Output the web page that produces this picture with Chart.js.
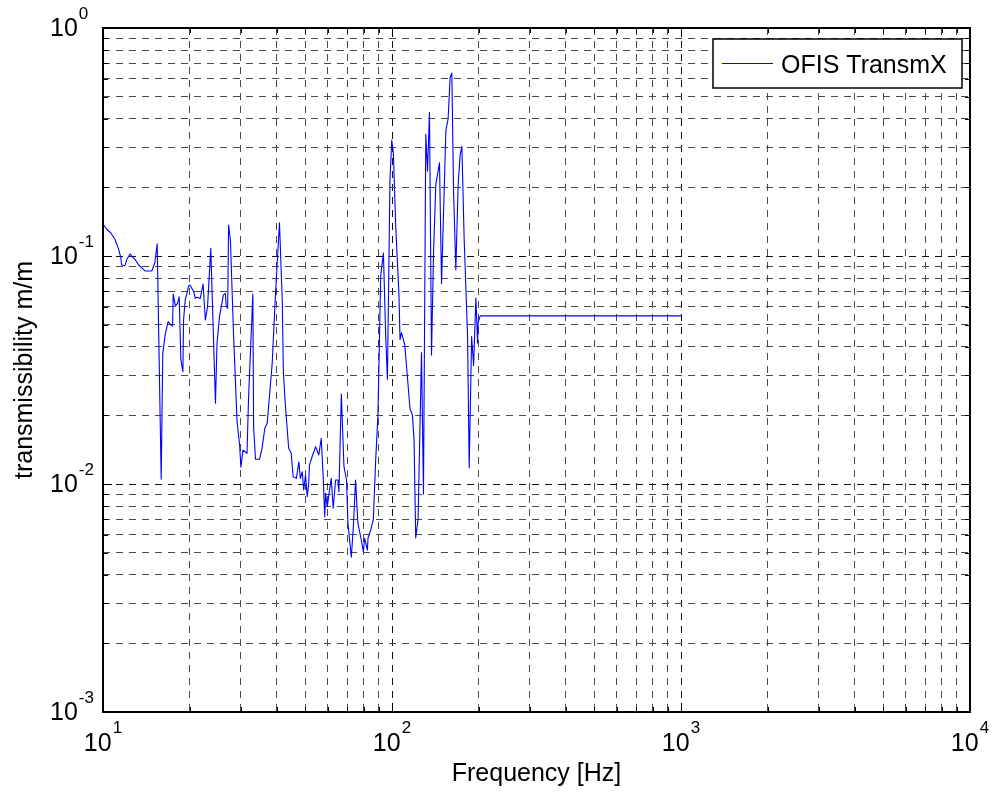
<!DOCTYPE html>
<html>
<head>
<meta charset="utf-8">
<title>OFIS TransmX</title>
<script src="https://cdn.jsdelivr.net/npm/chart.js@4/dist/chart.umd.min.js"></script>
<style>
  html, body { margin: 0; padding: 0; background: #ffffff; }
  #wrap { width: 994px; height: 795px; }
</style>
</head>
<body>
<div id="wrap"><canvas id="c" width="994" height="795"></canvas></div>
<script>
// Measured transmissibility (m/m) versus frequency (Hz)
const freqHz = [
  10.0, 10.3, 10.63, 11.0, 11.3, 11.52, 11.6, 11.9, 12.1, 12.4,
  12.9, 13.3, 14.0, 14.75, 15.1, 15.4, 15.9, 16.1, 16.4, 16.8,
  17.2, 17.4, 17.5, 17.8, 18.1, 18.35, 18.6, 18.9, 19.0, 19.25,
  19.8, 20.0, 20.6, 20.85, 21.1, 21.7, 22.2, 22.6, 23.0, 23.6,
  24.5, 24.8, 25.3, 26.1, 26.5, 26.7, 27.0, 27.2, 27.6, 28.3,
  29.1, 29.7, 30.0, 30.5, 31.5, 31.9, 33.0, 33.2, 33.7, 34.8,
  35.5, 36.3, 37.0, 38.5, 39.5, 40.8, 41.7, 42.1, 42.8, 43.9,
  44.8, 45.5, 46.7, 47.6, 48.2, 48.9, 49.5, 50.2, 50.9, 51.5,
  51.8, 52.9, 54.4, 55.8, 56.9, 57.8, 58.5, 58.9, 59.7, 61.6,
  62.6, 63.8, 65.0, 65.5, 66.8, 68.2, 69.6, 70.4, 72.3, 73.5,
  74.8, 76.2, 78.3, 79.6, 80.4, 82.2, 82.6, 84.4, 86.2, 87.8,
  89.4, 91.4, 93.4, 95.1, 96.4, 98.4, 99.8, 101.1, 103.0, 105.7,
  106.6, 107.8, 110.7, 113.1, 115.4, 117.7, 119.2, 120.8, 123.1, 126.5,
  128.5, 130.9, 132.7, 134.8, 137.0, 139.2, 141.8, 146.0, 148.4, 153.6,
  156.4, 158.9, 161.1, 163.3, 166.3, 169.4, 172.1, 174.5, 177.7, 182.6,
  185.0, 188.6, 191.6, 195.1, 197.8, 198.7, 201.9, 1000
];
const transmX = [
  0.138, 0.131, 0.1265, 0.1184, 0.108, 0.0987, 0.0913, 0.0907, 0.0967, 0.102,
  0.0967, 0.0913, 0.0859, 0.0859, 0.0929, 0.113, 0.0105, 0.0374, 0.0450, 0.0515,
  0.0498, 0.0493, 0.0681, 0.0603, 0.0620, 0.0663, 0.0350, 0.0311, 0.0524, 0.0641,
  0.0739, 0.0746, 0.0697, 0.0652, 0.0659, 0.0652, 0.0754, 0.0524, 0.0599, 0.108,
  0.0226, 0.0414, 0.0542, 0.0675, 0.0686, 0.0599, 0.0590, 0.1368, 0.1175, 0.0450,
  0.01876, 0.01483, 0.01184, 0.0141, 0.01363, 0.02415, 0.0681, 0.01784, 0.01283, 0.01283,
  0.01434, 0.01755, 0.01846, 0.03383, 0.0675, 0.140, 0.0641, 0.0306, 0.02183, 0.01434,
  0.01363, 0.01076, 0.01059, 0.01252, 0.01059, 0.01132, 0.00941, 0.01095, 0.0088, 0.01007,
  0.01211, 0.01317, 0.01457, 0.0134, 0.01586, 0.01076, 0.00719, 0.0091, 0.00795, 0.01059,
  0.00783, 0.01041, 0.01041, 0.00925, 0.0248, 0.01191, 0.01041, 0.00673, 0.00477, 0.0065,
  0.01041, 0.00673, 0.00568, 0.00505, 0.00578, 0.00513, 0.00578, 0.00629, 0.00702, 0.0127,
  0.0200, 0.0820, 0.1029, 0.0446, 0.0288, 0.2137, 0.3227, 0.2824, 0.1359, 0.0677,
  0.0430, 0.0461, 0.0408, 0.0293, 0.02144, 0.0200, 0.01565, 0.0058, 0.00702, 0.0377,
  0.00903, 0.342, 0.2357, 0.426, 0.0368, 0.1029, 0.2065, 0.2563, 0.0757, 0.3544,
  0.400, 0.608, 0.634, 0.1926, 0.0870, 0.2065, 0.2776, 0.3028, 0.1183, 0.0446,
  0.01177, 0.0443, 0.0331, 0.0654, 0.0415, 0.0512, 0.0546, 0.0546
];

// Axis decades and their exponent labels
const xDecades = [10, 100, 1000, 10000];
const xExponents = ['1', '2', '3', '4'];
const yDecades = [0.001, 0.01, 0.1, 1];
const yExponents = ['-3', '-2', '-1', '0'];

const seriesName = 'OFIS TransmX';
const xTitle = 'Frequency [Hz]';
const yTitle = 'transmissibility m/m';

const FONT = '"Liberation Sans", Arial, Helvetica, sans-serif';
const LINE_BLUE = '#0000ff';

// 1..9 × each decade, used for grid lines and tick marks
function logGrid(decades) {
  const out = [];
  for (let d = 0; d < decades.length; d++) {
    if (d === decades.length - 1) { out.push(decades[d]); break; }
    for (let k = 1; k <= 9; k++) out.push(decades[d] * k);
  }
  return out;
}
const xGrid = logGrid(xDecades);
const yGrid = logGrid(yDecades);

function isDecade(v) {
  const l = Math.log10(v);
  return Math.abs(l - Math.round(l)) < 1e-6;
}

const points = freqHz.map((f, i) => ({ x: f, y: transmX[i] }));

// Frame, inward ticks, exponent tick labels, axis titles and legend
const decorations = {
  id: 'decorations',
  beforeDraw(chart) {
    const ctx = chart.ctx;
    ctx.save();
    ctx.fillStyle = '#ffffff';
    ctx.fillRect(0, 0, chart.width, chart.height);
    ctx.restore();
  },
  afterDraw(chart) {
    const { ctx, chartArea: a, scales } = chart;
    const xs = scales.x, ys = scales.y;
    ctx.save();

    // inward tick marks on all four sides
    ctx.strokeStyle = '#000000';
    ctx.lineWidth = 1;
    ctx.beginPath();
    xGrid.forEach(v => {
      const px = Math.round(xs.getPixelForValue(v)) + 0.5;
      const len = isDecade(v) ? 9 : 5;
      ctx.moveTo(px, a.bottom); ctx.lineTo(px, a.bottom - len);
      ctx.moveTo(px, a.top); ctx.lineTo(px, a.top + len);
    });
    yGrid.forEach(v => {
      const py = Math.round(ys.getPixelForValue(v)) + 0.5;
      const len = isDecade(v) ? 9 : 5;
      ctx.moveTo(a.left, py); ctx.lineTo(a.left + len, py);
      ctx.moveTo(a.right, py); ctx.lineTo(a.right - len, py);
    });
    ctx.stroke();

    // axes box
    ctx.lineWidth = 2;
    ctx.strokeRect(a.left, a.top, a.right - a.left, a.bottom - a.top);

    // tick labels: "10" with raised exponent
    ctx.fillStyle = '#000000';
    ctx.textBaseline = 'alphabetic';
    ctx.textAlign = 'left';
    const baseFont = '25px ' + FONT;
    const supFont = '17px ' + FONT;
    xDecades.forEach((v, i) => {
      const px = xs.getPixelForValue(v);
      ctx.font = baseFont;
      const w10 = ctx.measureText('10').width;
      ctx.font = supFont;
      const ws = ctx.measureText(xExponents[i]).width;
      const x0 = px - (w10 + ws + 1) / 2;
      ctx.font = baseFont;
      ctx.fillText('10', x0, a.bottom + 39);
      ctx.font = supFont;
      ctx.fillText(xExponents[i], x0 + w10 + 1, a.bottom + 21);
    });
    yDecades.forEach((v, i) => {
      const py = ys.getPixelForValue(v);
      ctx.font = baseFont;
      const w10 = ctx.measureText('10').width;
      ctx.fillText('10', 50, py + 7.5);
      ctx.font = supFont;
      ctx.fillText(yExponents[i], 50 + w10 + 1, py - 9.5);
    });

    // axis titles
    ctx.font = baseFont;
    ctx.textAlign = 'center';
    ctx.fillText(xTitle, (a.left + a.right) / 2, 781);
    ctx.save();
    ctx.translate(32, (a.top + a.bottom) / 2);
    ctx.rotate(-Math.PI / 2);
    ctx.fillText(yTitle, 0, 0);
    ctx.restore();

    // legend box
    const lx = 713, ly = 39, lw = 249, lh = 49;
    ctx.fillStyle = '#ffffff';
    ctx.fillRect(lx, ly, lw, lh);
    ctx.strokeStyle = '#000000';
    ctx.lineWidth = 1.5;
    ctx.strokeRect(lx, ly, lw, lh);
    ctx.strokeStyle = LINE_BLUE;
    ctx.lineWidth = 1;
    ctx.beginPath();
    ctx.moveTo(722, 63.5);
    ctx.lineTo(773, 63.5);
    ctx.stroke();
    ctx.fillStyle = '#000000';
    ctx.textAlign = 'left';
    ctx.font = baseFont;
    ctx.fillText(seriesName, 781, 72.5);

    ctx.restore();
  }
};

const gridColor = (c) => (c.tick && isDecade(c.tick.value)) ? '#111111' : '#4a4a4a';

new Chart(document.getElementById('c'), {
  type: 'line',
  data: {
    datasets: [{
      label: seriesName,
      data: points,
      borderColor: LINE_BLUE,
      backgroundColor: LINE_BLUE,
      borderWidth: 1.1,
      pointRadius: 0,
      tension: 0,
      fill: false,
      borderJoinStyle: 'round'
    }]
  },
  options: {
    responsive: false,
    devicePixelRatio: 1,
    animation: false,
    layout: { padding: { left: 0, top: 28, right: 24, bottom: 0 } },
    plugins: {
      legend: { display: false },
      tooltip: { enabled: false }
    },
    scales: {
      x: {
        type: 'logarithmic',
        min: 10,
        max: 10000,
        afterBuildTicks: (s) => { s.ticks = xGrid.map(v => ({ value: v, major: isDecade(v) })); },
        afterFit: (s) => { s.height = 83; },
        ticks: { display: false },
        grid: { color: gridColor, lineWidth: 1, drawTicks: false },
        border: { display: false, dash: [7, 6] }
      },
      y: {
        type: 'logarithmic',
        min: 0.001,
        max: 1,
        afterBuildTicks: (s) => { s.ticks = yGrid.map(v => ({ value: v, major: isDecade(v) })); },
        afterFit: (s) => { s.width = 103; },
        ticks: { display: false },
        grid: { color: gridColor, lineWidth: 1, drawTicks: false },
        border: { display: false, dash: [7, 6] }
      }
    }
  },
  plugins: [decorations]
});
</script>
</body>
</html>
